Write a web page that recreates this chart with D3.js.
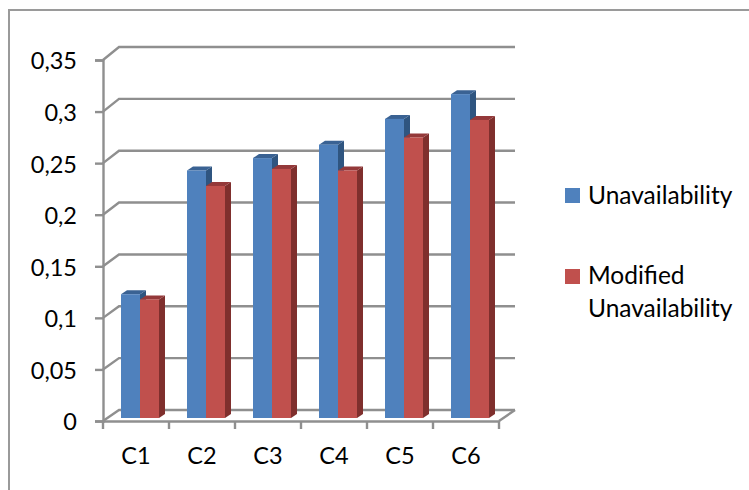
<!DOCTYPE html>
<html>
<head>
<meta charset="utf-8">
<script src="https://d3js.org/d3.v7.min.js"></script>
<style>
  body { margin: 0; background: #fff; }
  text { font-family: Lato, "Open Sans", sans-serif; fill: #000; }
  .axis path, .axis line { stroke: #8f8f8f; stroke-width: 2.4; }
</style>
</head>
<body>
<svg id="chart" width="749" height="490"></svg>
<script>
var categories = ["C1", "C2", "C3", "C4", "C5", "C6"];
var seriesNames = ["Unavailability", "Modified Unavailability"];
var unavailability = [0.12, 0.24, 0.252, 0.265, 0.29, 0.314];
var modifiedUnavailability = [0.115, 0.225, 0.2415, 0.24, 0.272, 0.289];
var yTicks = [0, 0.05, 0.1, 0.15, 0.2, 0.25, 0.3, 0.35];
var yTickLabels = ["0", "0,05", "0,1", "0,15", "0,2", "0,25", "0,3", "0,35"];

var colors = [
    {front: "#4f81bd", side: "#2f5580", top: "#3a6293"},
    {front: "#c0504d", side: "#7f2f2d", top: "#94393a"}
];

var svg = d3.select("#chart");

// outer frame, cut by the right and bottom page edges
svg.append("rect")
    .attr("x", 9).attr("y", 10)
    .attr("width", 800).attr("height", 600)
    .attr("fill", "none")
    .attr("stroke", "#9a9a9a")
    .attr("stroke-width", 2);

var left = 103, right = 499, top_ = 60, bottom = 421;
var depthX = 16;

var x = d3.scaleBand().domain(categories).range([left, right]);
var y = d3.scaleLinear().domain([0, 0.35]).range([bottom, top_]);
// back wall sits a little higher and is very slightly taller
var yBack = d3.scaleLinear().domain([0, 0.35]).range([410, 47]);

// back wall gridlines and floor
var grid = svg.append("g").attr("fill", "none").attr("stroke", "#8f8f8f").attr("stroke-width", 2.4);
yTicks.forEach(function (t) {
    grid.append("path").attr("d", d3.line()([
        [left, y(t)],
        [left + depthX, yBack(t)],
        [right + depthX, yBack(t)]
    ]));
});
grid.append("path").attr("d", d3.line()([
    [right, bottom],
    [right + depthX, yBack(0)]
]));

// front axes
var yAxis = svg.append("g")
    .attr("class", "axis")
    .attr("transform", "translate(" + left + ",0)")
    .call(d3.axisLeft(y)
        .tickValues(yTicks)
        .tickSize(8)
        .tickPadding(18)
        .tickFormat(function (d, i) { return yTickLabels[i]; }));
yAxis.selectAll("text").style("font-size", "23.5px").attr("dy", "0.38em");

var xAxis = svg.append("g")
    .attr("class", "axis")
    .attr("transform", "translate(0," + bottom + ")")
    .call(d3.axisBottom(x).tickSize(0).tickPadding(26));
xAxis.selectAll("text").style("font-size", "23.5px");
xAxis.selectAll(".boundary").data(d3.range(categories.length + 1)).enter()
    .append("line")
    .attr("class", "boundary")
    .attr("x1", function (i) { return left + i * x.bandwidth(); })
    .attr("x2", function (i) { return left + i * x.bandwidth(); })
    .attr("y1", 0).attr("y2", 8);

// 3d bars
var barW = 19, barDX = 6, barDY = -4, barBaseShift = -3, groupShift = 18;
var barY = function (v) { return y(v) + barBaseShift; };

function drawBars(values, s) {
    var g = svg.append("g").selectAll("g")
        .data(categories)
        .enter().append("g");
    var bx = function (c) { return x(c) + groupShift + s * barW; };
    g.append("path")
        .attr("fill", colors[s].side)
        .attr("d", function (c, i) {
            var x1 = bx(c) + barW, t = barY(values[i]), b = barY(0);
            return d3.line()([[x1, t], [x1 + barDX, t + barDY], [x1 + barDX, b + barDY], [x1, b]]) + "Z";
        });
    g.append("path")
        .attr("fill", colors[s].top)
        .attr("d", function (c, i) {
            var x0 = bx(c), t = barY(values[i]);
            return d3.line()([[x0, t], [x0 + barDX, t + barDY], [x0 + barW + barDX, t + barDY], [x0 + barW, t]]) + "Z";
        });
    g.append("rect")
        .attr("fill", colors[s].front)
        .attr("x", bx)
        .attr("y", function (c, i) { return barY(values[i]); })
        .attr("width", barW)
        .attr("height", function (c, i) { return barY(0) - barY(values[i]); });
}
drawBars(unavailability, 0);
drawBars(modifiedUnavailability, 1);

// legend
var legend = svg.append("g").style("font-size", "24.5px");
legend.append("rect").attr("x", 565).attr("y", 188).attr("width", 15).attr("height", 15).attr("fill", colors[0].front);
legend.append("text").attr("x", 588).attr("y", 204).text(seriesNames[0]);
legend.append("rect").attr("x", 565).attr("y", 269).attr("width", 15).attr("height", 15).attr("fill", colors[1].front);
var words = seriesNames[1].split(" ");
legend.append("text").attr("x", 588).attr("y", 284).text(words[0]);
legend.append("text").attr("x", 588).attr("y", 317).text(words[1]);
</script>
</body>
</html>
